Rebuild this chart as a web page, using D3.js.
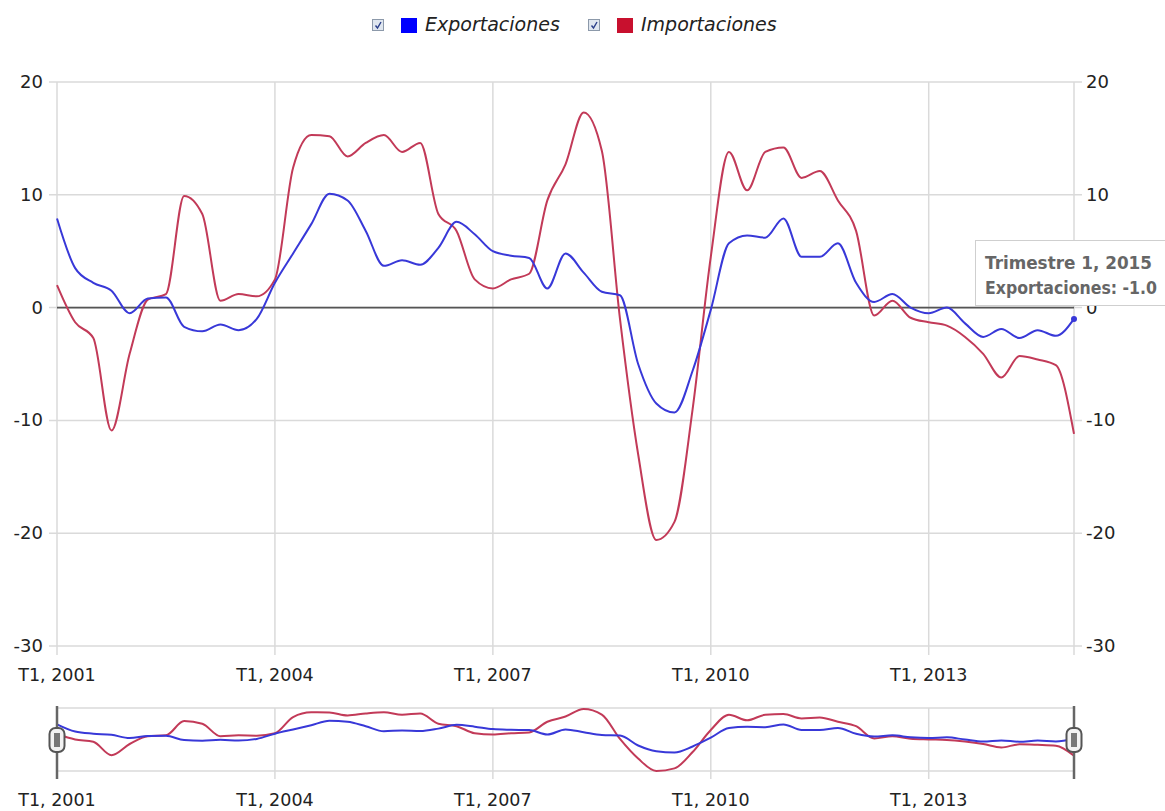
<!DOCTYPE html>
<html>
<meta charset="utf-8">
<head>
<title>Exportaciones e Importaciones</title>
<style>
    body { margin: 0; background: #fff; font-family: "DejaVu Sans", Verdana, sans-serif; }
    svg { display: block; }
</style>
<script src="https://d3js.org/d3.v7.min.js"></script>
</head>
<body>
<svg></svg>
<script>

var width = 1165, height = 811;

// quarterly series, T1 2001 .. T1 2015
var exportaciones = [7.9, 3.5, 2.2, 1.5, -0.5, 0.8, 0.9, -1.7, -2.1, -1.5, -2.0, -1.0,
    2.2, 4.8, 7.4, 10.1, 9.5, 6.8, 3.7, 4.2, 3.8, 5.3, 7.6, 6.5,
    5.0, 4.6, 4.4, 1.7, 4.8, 3.1, 1.4, 1.1, -5.0, -8.5, -9.3, -5.6,
    -0.2, 5.7, 6.4, 6.2, 7.9, 4.5, 4.5, 5.7, 2.2, 0.5, 1.2, 0.0,
    -0.5, 0.0, -1.4, -2.6, -1.9, -2.7, -2.0, -2.5, -1.0];
var importaciones = [2.0, -1.3, -2.7, -10.9, -4.1, 0.7, 1.2, 9.9, 8.3, 0.6, 1.2, 1.0,
    2.5, 12.4, 15.3, 15.2, 13.4, 14.6, 15.3, 13.8, 14.6, 8.3, 6.8, 2.5,
    1.7, 2.5, 3.0, 9.5, 12.7, 17.3, 13.9, -1.0, -13.0, -20.6, -19.0, -9.0,
    4.5, 13.8, 10.4, 13.8, 14.2, 11.5, 12.1, 9.5, 6.8, -0.7, 0.6, -0.9,
    -1.3, -1.6, -2.6, -4.1, -6.2, -4.3, -4.6, -5.1, -11.2];
var seriesNames = ["Exportaciones", "Importaciones"];
var seriesColors = ["#3838d8", "#c23a58"];
var legendColors = ["#0000ff", "#c8102e"];
var yTicks = [20, 10, 0, -10, -20, -30];
var xTickIdx = [0, 12, 24, 36, 48];
var xTickLabels = ["T1, 2001", "T1, 2004", "T1, 2007", "T1, 2010", "T1, 2013"];
var tooltipLines = ["Trimestre 1, 2015", "Exportaciones: -1.0"];

var svg = d3.select("svg").attr("width", width).attr("height", height);

var n = exportaciones.length;
var x = d3.scaleLinear().domain([0, n - 1]).range([57, 1074]);
var y = d3.scaleLinear().domain([-30, 20]).range([646, 82]);
var allVals = exportaciones.concat(importaciones);
var yNav = d3.scaleLinear().domain(d3.extent(allVals)).range([771, 709]);

var grid = "#dadada";

// ---- main chart ----
var g = svg.append("g");

// horizontal grid + left/right ticks
g.selectAll(".hg").data(yTicks).enter().append("line")
    .attr("x1", 49).attr("x2", 1082)
    .attr("y1", d => y(d)).attr("y2", d => y(d))
    .attr("stroke", grid).attr("stroke-width", 1.5);

// vertical grid
g.selectAll(".vg").data(xTickIdx).enter().append("line")
    .attr("x1", d => x(d)).attr("x2", d => x(d))
    .attr("y1", y(20)).attr("y2", y(-30) + 9)
    .attr("stroke", grid).attr("stroke-width", 1.5);
g.append("line")
    .attr("x1", x(n - 1)).attr("x2", x(n - 1))
    .attr("y1", y(20)).attr("y2", y(-30) + 9)
    .attr("stroke", grid).attr("stroke-width", 1.5);

// zero line
g.append("line")
    .attr("x1", x(0)).attr("x2", x(n - 1))
    .attr("y1", y(0)).attr("y2", y(0))
    .attr("stroke", "#555").attr("stroke-width", 1.8);

// y labels
g.selectAll(".yl").data(yTicks).enter().append("text")
    .attr("x", 43).attr("y", d => y(d) + 6)
    .attr("text-anchor", "end")
    .attr("font-size", 18).attr("fill", "#222")
    .text(d => d);
g.selectAll(".yr").data(yTicks).enter().append("text")
    .attr("x", 1086).attr("y", d => y(d) + 6)
    .attr("text-anchor", "start")
    .attr("font-size", 18).attr("fill", "#222")
    .text(d => d);

// x labels
g.selectAll(".xl").data(xTickIdx).enter().append("text")
    .attr("x", d => x(d)).attr("y", 681)
    .attr("text-anchor", "middle")
    .attr("font-size", 17.5).attr("fill", "#222")
    .text((d, i) => xTickLabels[i]);

var line = d3.line()
    .x((d, i) => x(i))
    .y(d => y(d))
    .curve(d3.curveMonotoneX);

g.append("path")
    .attr("d", line(importaciones))
    .attr("fill", "none").attr("stroke", seriesColors[1]).attr("stroke-width", 2);
g.append("path")
    .attr("d", line(exportaciones))
    .attr("fill", "none").attr("stroke", seriesColors[0]).attr("stroke-width", 2);

// focused point
g.append("circle")
    .attr("cx", x(n - 1)).attr("cy", y(exportaciones[n - 1]))
    .attr("r", 3).attr("fill", seriesColors[0]);

// ---- navigator ----
var nav = svg.append("g");
[yNav.range()[0], yNav.range()[1] - 1].forEach(v => {
    nav.append("line")
        .attr("x1", x(0)).attr("x2", x(n - 1))
        .attr("y1", v).attr("y2", v)
        .attr("stroke", grid).attr("stroke-width", 1.5);
});
nav.selectAll(".nvg").data(xTickIdx.slice(1)).enter().append("line")
    .attr("x1", d => x(d)).attr("x2", d => x(d))
    .attr("y1", 708).attr("y2", 779)
    .attr("stroke", grid).attr("stroke-width", 1.5);

var navLine = d3.line()
    .x((d, i) => x(i))
    .y(d => yNav(d))
    .curve(d3.curveMonotoneX);

nav.append("path").attr("d", navLine(importaciones))
    .attr("fill", "none").attr("stroke", seriesColors[1]).attr("stroke-width", 2);
nav.append("path").attr("d", navLine(exportaciones))
    .attr("fill", "none").attr("stroke", seriesColors[0]).attr("stroke-width", 2);

nav.selectAll(".nxl").data(xTickIdx).enter().append("text")
    .attr("x", d => x(d)).attr("y", 806)
    .attr("text-anchor", "middle")
    .attr("font-size", 17.5).attr("fill", "#222")
    .text((d, i) => xTickLabels[i]);

// handles
[0, n - 1].forEach(i => {
    var hx = x(i);
    nav.append("line")
        .attr("x1", hx).attr("x2", hx).attr("y1", 706).attr("y2", 779)
        .attr("stroke", "#666").attr("stroke-width", 2.5);
    nav.append("rect")
        .attr("x", hx - 7.5).attr("y", 728).attr("width", 15).attr("height", 24)
        .attr("rx", 6).attr("ry", 6)
        .attr("fill", "#f2f2f2").attr("stroke", "#555").attr("stroke-width", 2);
    nav.append("rect")
        .attr("x", hx - 3).attr("y", 733).attr("width", 6).attr("height", 14)
        .attr("fill", "#777");
});

// ---- legend ----
var legend = svg.append("g");
var legendX = [372, 588];
seriesNames.forEach((name, i) => {
    var lx = legendX[i];
    legend.append("rect")
        .attr("x", lx + 0.5).attr("y", 19.5).attr("width", 11).attr("height", 11)
        .attr("fill", "#dfe6ef").attr("stroke", "#8c99aa");
    legend.append("path")
        .attr("d", "M" + (lx + 3.5) + ",25.5 l2,2.5 l3.5,-6")
        .attr("fill", "none").attr("stroke", "#2b3f8a").attr("stroke-width", 1.4);
    legend.append("rect")
        .attr("x", lx + 29).attr("y", 18).attr("width", 16).attr("height", 15)
        .attr("fill", legendColors[i]);
    legend.append("text")
        .attr("x", lx + 53).attr("y", 31)
        .attr("font-size", 19).attr("font-style", "italic").attr("fill", "#222")
        .text(name);
});

// ---- tooltip ----
var tipWidths = [167, 172];
var tip = svg.append("g");
tip.append("rect")
    .attr("x", 975.5).attr("y", 240.5).attr("width", 200).attr("height", 65)
    .attr("fill", "#fff").attr("stroke", "#cfcfcf");
tip.selectAll("text").data(tooltipLines).enter().append("text")
    .attr("x", 985).attr("y", (d, i) => 269 + i * 25)
    .attr("font-size", 18).attr("font-weight", "bold").attr("fill", "#666")
    .attr("textLength", (d, i) => tipWidths[i])
    .attr("lengthAdjust", "spacingAndGlyphs")
    .text(d => d);

</script>
</body>
</html>
